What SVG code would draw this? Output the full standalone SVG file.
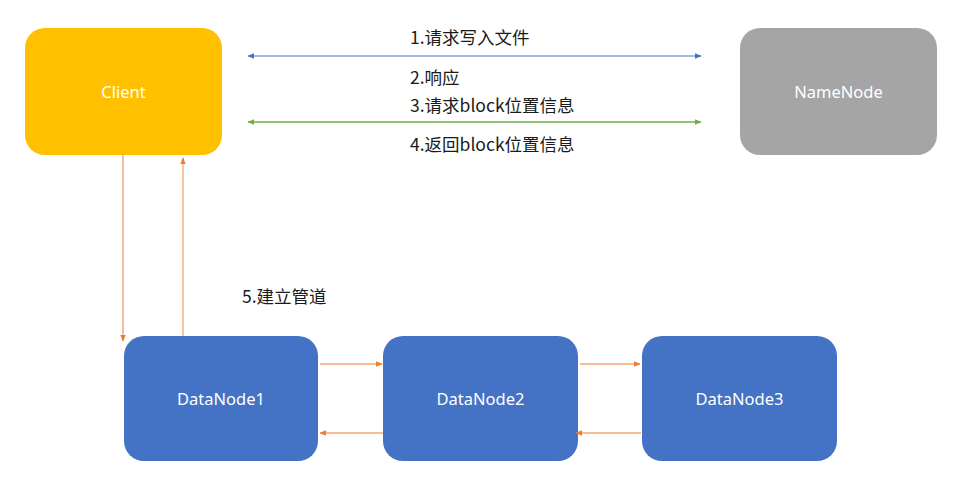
<svg xmlns="http://www.w3.org/2000/svg" width="955" height="486" viewBox="0 0 955 486">
<style>
.lbl{font-family:"Microsoft YaHei","Noto Sans CJK SC","Noto Sans",sans-serif;font-size:17.5px;fill:#1a1a1a}
.nt{font-family:"Noto Sans","Noto Sans CJK SC",sans-serif;font-size:16.5px;fill:#ffffff;text-anchor:middle;dominant-baseline:central}
.dn{fill:#4472c4}
.or{stroke:#ed7d31;stroke-width:1;fill:none}
</style>
<defs>
<marker id="ab" viewBox="0 0 10 10" refX="9" refY="5" markerWidth="7" markerHeight="7" orient="auto-start-reverse" markerUnits="userSpaceOnUse"><path d="M0,1 L10,5 L0,9 Z" fill="#4472c4"/></marker>
<marker id="ag" viewBox="0 0 10 10" refX="9" refY="5" markerWidth="7" markerHeight="7" orient="auto-start-reverse" markerUnits="userSpaceOnUse"><path d="M0,1 L10,5 L0,9 Z" fill="#70ad47"/></marker>
<marker id="ao" viewBox="0 0 10 10" refX="9" refY="5" markerWidth="7" markerHeight="7" orient="auto" markerUnits="userSpaceOnUse"><path d="M0,1 L10,5 L0,9 Z" fill="#ed7d31"/></marker>
</defs>
<rect width="955" height="486" fill="#ffffff"/>
<g id="client"><rect x="25" y="28" width="197" height="127" rx="20" fill="#ffc000"/><text class="nt" x="123.5" y="91.5">Client</text></g>
<g id="namenode"><rect x="740" y="28" width="197" height="127" rx="20" fill="#a5a5a5"/><text class="nt" x="838.5" y="91.5">NameNode</text></g>
<g id="datanode1"><rect class="dn" x="124" y="336" width="194" height="125" rx="20"/><text class="nt" x="221" y="398.5">DataNode1</text></g>
<g id="datanode2"><rect class="dn" x="383" y="336" width="195" height="125" rx="20"/><text class="nt" x="480.5" y="398.5">DataNode2</text></g>
<g id="datanode3"><rect class="dn" x="642" y="336" width="195" height="125" rx="20"/><text class="nt" x="739.5" y="398.5">DataNode3</text></g>
<g id="connectors">
<line x1="248" y1="56" x2="701" y2="56" stroke="#4472c4" stroke-width="1" marker-start="url(#ab)" marker-end="url(#ab)"/>
<line x1="248" y1="122" x2="701" y2="122" stroke="#70ad47" stroke-width="1.5" marker-start="url(#ag)" marker-end="url(#ag)"/>
<line class="or" x1="123" y1="155" x2="123" y2="341" marker-end="url(#ao)"/>
<line x1="183" y1="336" x2="183" y2="158" stroke="#f4b183" stroke-width="1.5" marker-end="url(#ao)"/>
<line class="or" x1="320" y1="364" x2="382" y2="364" marker-end="url(#ao)"/>
<line class="or" x1="383" y1="433" x2="320" y2="433" marker-end="url(#ao)"/>
<line class="or" x1="580" y1="364" x2="640" y2="364" marker-end="url(#ao)"/>
<line class="or" x1="641" y1="433" x2="576" y2="433" marker-end="url(#ao)"/>
</g>
<g id="labels">
<text class="lbl" x="410" y="44">1.请求写入文件</text>
<text class="lbl" x="410" y="84">2.响应</text>
<text class="lbl" x="410" y="112">3.请求block位置信息</text>
<text class="lbl" x="410" y="151">4.返回block位置信息</text>
<text class="lbl" x="242" y="303">5.建立管道</text>
</g>
</svg>
